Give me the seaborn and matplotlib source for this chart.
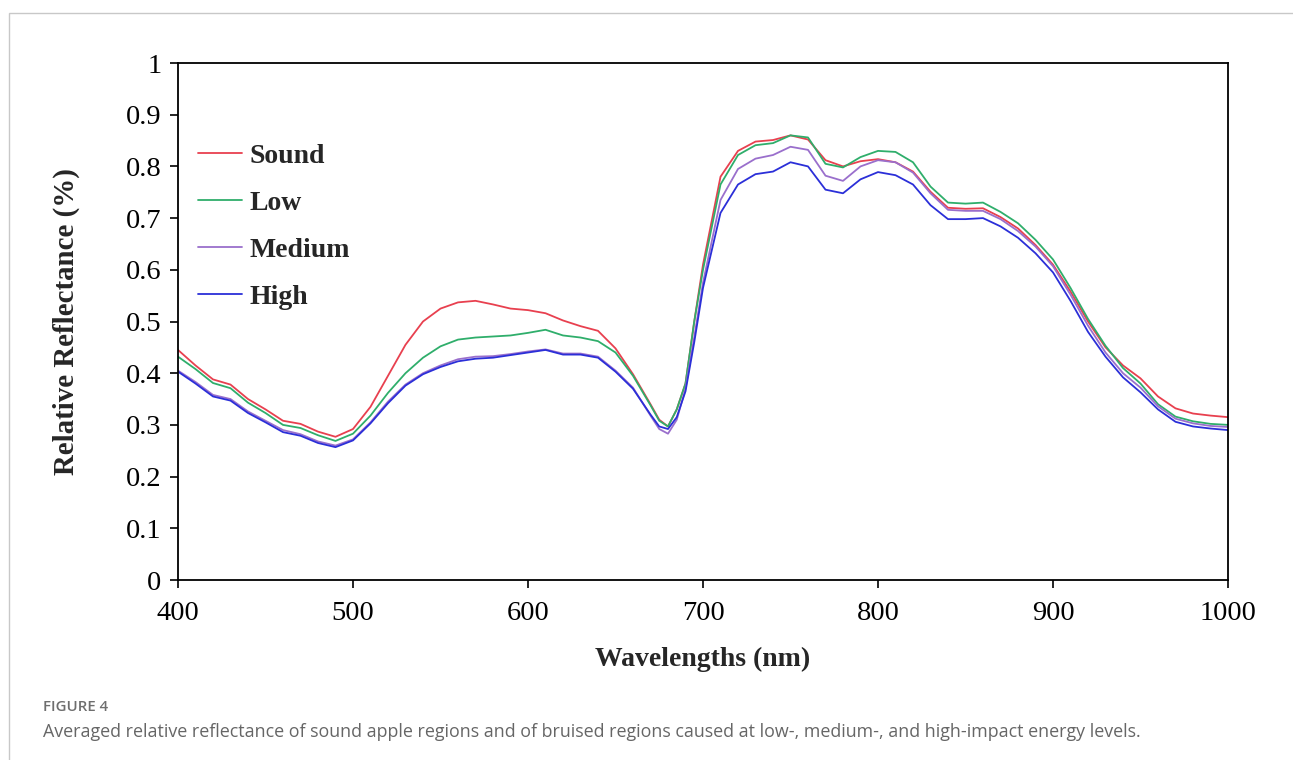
import numpy as np
import pandas as pd
import matplotlib
matplotlib.use("Agg")
import matplotlib.pyplot as plt
import seaborn as sns
from matplotlib.patches import Rectangle
from matplotlib.lines import Line2D

wavelengths = [400, 410, 420, 430, 440, 450, 460, 470, 480, 490,
               500, 510, 520, 530, 540, 550, 560, 570, 580, 590,
               600, 610, 620, 630, 640, 650, 660, 670, 675, 680,
               685, 690, 695, 700, 710, 720, 730, 740, 750, 760,
               770, 780, 790, 800, 810, 820, 830, 840, 850, 860,
               870, 880, 890, 900, 910, 920, 930, 940, 950, 960,
               970, 980, 990, 1000]

sound = [0.445, 0.415, 0.388, 0.378, 0.350, 0.330, 0.308, 0.302, 0.287, 0.277,
         0.292, 0.335, 0.395, 0.455, 0.500, 0.525, 0.537, 0.540, 0.533, 0.525,
         0.522, 0.516, 0.502, 0.491, 0.482, 0.448, 0.398, 0.340, 0.310, 0.297,
         0.330, 0.380, 0.500, 0.610, 0.780, 0.830, 0.848, 0.851, 0.860, 0.852,
         0.812, 0.800, 0.810, 0.814, 0.808, 0.790, 0.751, 0.720, 0.718, 0.719,
         0.702, 0.680, 0.648, 0.610, 0.558, 0.500, 0.450, 0.415, 0.390, 0.355,
         0.332, 0.322, 0.318, 0.315]

low = [0.432, 0.408, 0.381, 0.371, 0.343, 0.323, 0.300, 0.294, 0.280, 0.269,
       0.283, 0.318, 0.362, 0.400, 0.430, 0.452, 0.465, 0.469, 0.471, 0.473,
       0.478, 0.484, 0.473, 0.469, 0.462, 0.440, 0.395, 0.338, 0.308, 0.297,
       0.330, 0.380, 0.500, 0.600, 0.765, 0.822, 0.841, 0.845, 0.860, 0.856,
       0.805, 0.798, 0.818, 0.830, 0.828, 0.808, 0.761, 0.730, 0.728, 0.730,
       0.712, 0.690, 0.658, 0.620, 0.565, 0.505, 0.453, 0.410, 0.380, 0.340,
       0.316, 0.307, 0.302, 0.300]

medium = [0.405, 0.383, 0.358, 0.350, 0.326, 0.308, 0.290, 0.282, 0.268, 0.260,
          0.272, 0.305, 0.345, 0.378, 0.400, 0.415, 0.427, 0.432, 0.433, 0.437,
          0.442, 0.446, 0.438, 0.438, 0.432, 0.405, 0.372, 0.318, 0.292, 0.283,
          0.310, 0.370, 0.470, 0.575, 0.735, 0.795, 0.815, 0.822, 0.838, 0.832,
          0.782, 0.772, 0.800, 0.812, 0.808, 0.788, 0.748, 0.716, 0.714, 0.714,
          0.698, 0.675, 0.645, 0.607, 0.552, 0.492, 0.440, 0.400, 0.372, 0.336,
          0.312, 0.303, 0.298, 0.296]

high = [0.403, 0.380, 0.355, 0.347, 0.323, 0.305, 0.286, 0.279, 0.265, 0.257,
        0.270, 0.303, 0.342, 0.376, 0.398, 0.412, 0.423, 0.428, 0.430, 0.435,
        0.440, 0.445, 0.436, 0.436, 0.430, 0.403, 0.370, 0.320, 0.297, 0.292,
        0.315, 0.365, 0.460, 0.565, 0.710, 0.765, 0.785, 0.790, 0.808, 0.800,
        0.755, 0.748, 0.775, 0.789, 0.783, 0.765, 0.725, 0.698, 0.698, 0.700,
        0.684, 0.662, 0.632, 0.595, 0.540, 0.480, 0.432, 0.392, 0.363, 0.330,
        0.306, 0.297, 0.293, 0.290]

series_names = ["Sound", "Low", "Medium", "High"]
series_values = [sound, low, medium, high]
colors = {"Sound": "#e8404f", "Low": "#2fae6b", "Medium": "#9a6fcc", "High": "#2b2fd8"}

x_ticks = [400, 500, 600, 700, 800, 900, 1000]
y_ticks = [0, 0.1, 0.2, 0.3, 0.4, 0.5, 0.6, 0.7, 0.8, 0.9, 1]
y_ticklabels = ["0", "0.1", "0.2", "0.3", "0.4", "0.5", "0.6", "0.7", "0.8", "0.9", "1"]

frames = []
for name, vals in zip(series_names, series_values):
    frames.append(pd.DataFrame({"Wavelength": wavelengths, "Reflectance": vals, "Level": name}))
df = pd.concat(frames, ignore_index=True)

sns.set_theme(style="ticks")
plt.rcParams["font.family"] = ["Liberation Serif", "DejaVu Serif"]

fig = plt.figure(figsize=(12.93, 7.60), dpi=100)
ax = fig.add_axes([178 / 1293, 1 - 580 / 760, 1050 / 1293, 517 / 760])

sns.lineplot(data=df, x="Wavelength", y="Reflectance", hue="Level",
             hue_order=series_names, palette=colors, linewidth=1.3, ax=ax,
             legend=False, sort=True)

ax.set_xlim(400, 1000)
ax.set_ylim(0, 1)
ax.set_xticks(x_ticks)
ax.set_yticks(y_ticks)
ax.set_yticklabels(y_ticklabels)
ax.tick_params(axis="both", direction="out", length=6, width=1.2, colors="black",
               labelsize=20.5)
ax.tick_params(axis="x", pad=9)
ax.tick_params(axis="y", pad=6)
for sp in ax.spines.values():
    sp.set_visible(True)
    sp.set_color("black")
    sp.set_linewidth(1.3)

ax.set_xlabel("Wavelengths (nm)", fontsize=20, fontweight="bold", labelpad=15)
ax.set_ylabel("Relative Reflectance (%)", fontsize=20.8, fontweight="bold", labelpad=33)

handles = [Line2D([0], [0], color=colors[n], lw=1.3) for n in series_names]
leg = ax.legend(handles, series_names, loc="upper left", bbox_to_anchor=(0.019, 0.845),
                frameon=False, borderpad=0, borderaxespad=0, handlelength=1.6,
                handletextpad=0.25, labelspacing=0.78,
                prop={"family": "Liberation Serif", "weight": "bold", "size": 20})

# outer panel border
fig.add_artist(Rectangle((9 / 1293, -0.1), 1.2, (1 - 13 / 760) + 0.1, transform=fig.transFigure,
                         fill=False, edgecolor="#c8c8c8", linewidth=1.0))

fig.text(43 / 1293, 1 - 707 / 760, "FIGURE 4", fontsize=10.8, color="#6e6e6e",
         family=["Open Sans", "DejaVu Sans"], fontweight="semibold", va="center", ha="left")
fig.text(43 / 1293, 1 - 732 / 760,
         "Averaged relative reflectance of sound apple regions and of bruised regions caused at low-, medium-, and high-impact energy levels.",
         fontsize=12.9, color="#666666", family=["Open Sans", "DejaVu Sans"],
         va="center", ha="left")

fig.savefig("out.png", dpi=100, facecolor="white")
